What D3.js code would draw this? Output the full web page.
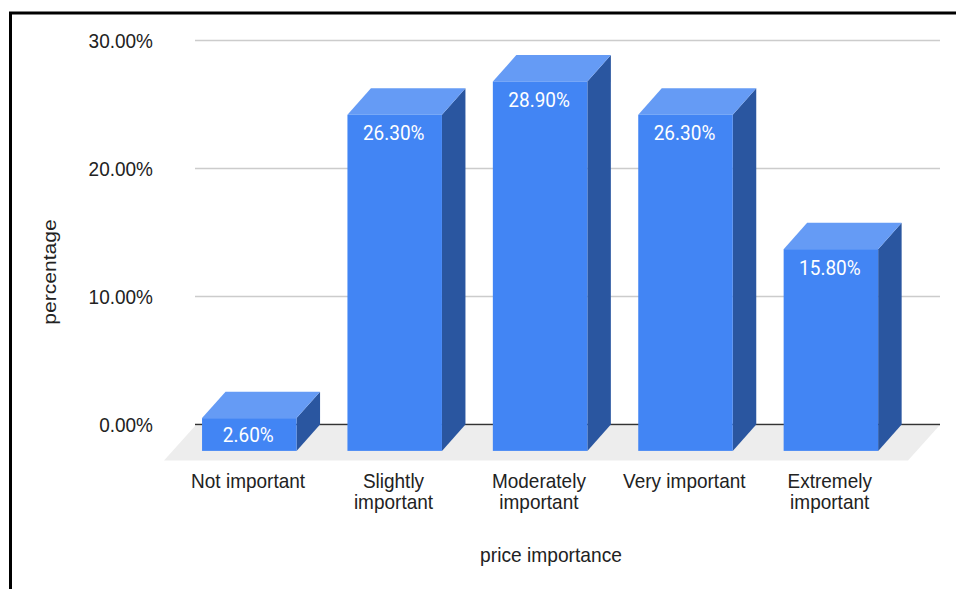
<!DOCTYPE html>
<html><head><meta charset="utf-8">
<script src="https://cdn.jsdelivr.net/npm/d3@7"></script>
<style>html,body{margin:0;padding:0;background:#fff}svg{display:block}</style></head>
<body><svg id="c" width="956" height="589"></svg>
<script>
const categories = [["Not important"],["Slightly","important"],["Moderately","important"],["Very important"],["Extremely","important"]];
const values = [2.6,26.3,28.9,26.3,15.8];
const valueLabels = ["2.60%","26.30%","28.90%","26.30%","15.80%"];
const yTicks = [0,10,20,30];
const xTitle = "price importance";
const yTitle = "percentage";

const svg = d3.select("#c");
const W=956,H=589;
const stretch=1.1;
const depthX=23.5, depthY=-26.4;
const y = d3.scaleLinear().domain([0,30]).range([424.5,40.5]);
const x = d3.scaleBand().domain(d3.range(categories.length)).range([176.6,903.6]).paddingInner(.35).paddingOuter(.175);
const font = "Arial,'Liberation Sans',sans-serif";

// frame
svg.append("path").attr("d",`M10.5,${H} V13 H${W}`).attr("fill","none").attr("stroke","#000").attr("stroke-width",3);

// floor
svg.append("path").attr("d","M195,426 L939,426 L908,460.5 L164,460.5 Z").attr("fill","#ededed");

// y axis with gridlines
const yAxis = d3.axisLeft(y).tickValues(yTicks).tickFormat(d=>d.toFixed(2)+"%").tickSize(0).tickPadding(0);
const ga = svg.append("g").attr("transform","translate(153,0)").call(yAxis);
ga.select(".domain").remove();
ga.selectAll("text").attr("font-family",font).attr("font-size",19).attr("fill","#222").attr("transform",`scale(1,${stretch})`);
const grid = svg.append("g");
grid.selectAll("line").data(yTicks).join("line")
  .attr("x1",195).attr("x2",940).attr("y1",d=>y(d)).attr("y2",d=>y(d))
  .attr("stroke",d=>d===0?"#333":"#ccc").attr("stroke-width",1.6);

// bars
const bars = svg.append("g").selectAll("g").data(values).join("g");
const fy = v => y(v)-depthY+0.5;
const fb = y(0)-depthY;
bars.append("path").attr("fill","#2a56a0")
  .attr("d",(v,i)=>{const r=x(i)+x.bandwidth();return `M${r},${fy(v)} l${depthX},${depthY} V${y(0)} L${r},${fb} Z`});
bars.append("path").attr("fill","#659bf5")
  .attr("d",(v,i)=>{const l=x(i),r=l+x.bandwidth();return `M${l},${fy(v)} l${depthX},${depthY} H${r+depthX} L${r},${fy(v)} Z`});
bars.append("rect").attr("fill","#4285f4")
  .attr("x",(v,i)=>x(i)).attr("width",x.bandwidth())
  .attr("y",v=>fy(v)).attr("height",v=>fb-fy(v));
bars.append("text").text((v,i)=>valueLabels[i])
  .attr("transform",(v,i)=>`translate(${x(i)+x.bandwidth()/2-1},${Math.min(fy(v)+25.5,(fy(v)+fb)/2+7)}) scale(1,${stretch})`)
  .attr("text-anchor","middle").attr("font-family","Roboto,sans-serif").attr("font-size",19).attr("fill","#fff");

// category labels
const cats = svg.append("g").selectAll("text").data(categories).join("text")
  .attr("text-anchor","middle").attr("font-family",font).attr("font-size",19).attr("fill","#222")
  .attr("transform",(c,i)=>`translate(${x(i)+x.bandwidth()/2-1.2},487.5) scale(1,${stretch})`);
cats.selectAll("tspan").data(c=>c).join("tspan").attr("x",0).attr("y",(d,j)=>j*21.5/stretch).text(d=>d);

// titles
svg.append("text").text(xTitle).attr("transform",`translate(551,562) scale(1,${stretch})`).attr("text-anchor","middle")
  .attr("font-family",font).attr("font-size",19.2).attr("fill","#222");
svg.append("text").text(yTitle).attr("transform",`translate(56,272) rotate(-90) scale(${stretch},1)`).attr("text-anchor","middle")
  .attr("font-family",font).attr("font-size",19.2).attr("fill","#222");
</script></body></html>
